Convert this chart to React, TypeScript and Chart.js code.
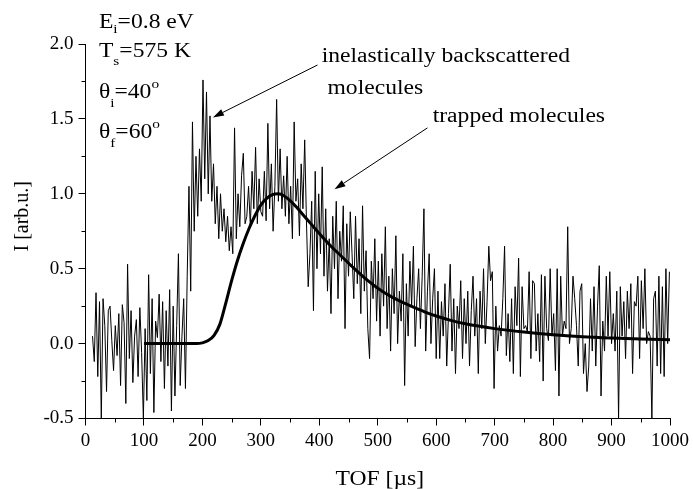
import React, { useEffect, useRef } from 'react';
import { Chart, registerables } from 'chart.js';

Chart.register(...registerables);

// ---- measured signal (TOF grid: start 12 µs, step 3 µs) ----
const tofStart = 12;
const tofStep = 3;
const signal12to99 = [0.05, -0.12, 0.34, -0.22, 0.28, -0.5, 0.3, 0.12, -0.32, 0.22, 0.25, 0.02, -0.18, 0.12, -0.08, 0.2, -0.28, 0.26, 0.14, -0.4, 0.53, -0.1, 0.22, -0.26, 0.05, 0.16, -0.22, 0.24, -0.06, -0.5];
const signal102to198 = [0.1, -0.38, 0.46, -0.2, 0.3, -0.46, 0.15, 0.04, 0.33, -0.12, 0.28, -0.3, 0.22, -0.15, 0.36, -0.45, 0.25, -0.35, 0.12, 0.6, -0.28, 0.05, 0.3, -0.3, 0.45, 1.05, 0.35, 1.48, 0.75, 1.25, 0.85, 1.3, 0.95];
const signal201to300 = [1.76, 1.1, 1.68, 1.0, 1.52, 0.95, 1.2, 0.8, 1.05, 0.7, 1.0, 0.75, 0.9, 0.68, 0.85, 0.62, 0.78, 0.6, 1.44, 0.7, 1.0, 0.78, 1.12, 1.27, 0.8, 0.85, 1.05, 0.78, 1.15, 0.9, 1.31, 0.8, 1.1, 0.88];
const signal303to399 = [0.85, 1.15, 0.82, 1.47, 0.9, 1.2, 0.75, 1.05, 1.63, 0.95, 1.3, 0.9, 1.12, 0.85, 1.25, 0.8, 1.05, 0.7, 1.48, 0.95, 1.1, 0.72, 1.2, 0.9, 1.36, 0.82, 0.38, 0.6, 0.95, 0.22, 1.15, 0.5, 1.0];
const signal402to498 = [0.6, 1.18, 0.45, 0.9, 0.35, 0.7, 0.2, 0.85, 0.5, 0.95, 0.3, 0.75, 0.55, 0.92, 0.1, 0.8, 0.45, 0.88, 0.6, 0.3, 0.85, 0.4, 0.7, 0.2, 0.92, 0.35, 0.62, 0.1, -0.1, 0.55, 0.3, 0.7, 0.15];
const signal501to600 = [0.55, 0.05, 0.6, 0.25, 0.78, 0.1, 0.45, -0.05, 0.5, 0.2, 0.72, 0.0, 0.35, 0.15, 0.6, -0.28, 0.4, 0.05, 0.55, 0.25, 0.65, -0.02, 0.3, 0.5, 0.1, 0.45, 0.9, -0.05, 0.35, 0.6, 0.0, 0.3, 0.5, -0.1];
const signal603to699 = [0.35, -0.1, 0.28, 0.05, 0.4, -0.15, 0.2, 0.53, -0.05, 0.3, -0.2, 0.25, 0.1, 0.42, -0.1, 0.3, 0.0, 0.35, -0.15, 0.22, 0.45, 0.05, 0.3, -0.2, 0.35, 0.1, 0.5, 0.0, 0.28, 0.65, 0.42, 0.48, -0.3];
const signal702to798 = [0.25, -0.05, 0.12, 0.05, 0.3, 0.65, -0.08, 0.2, -0.12, 0.3, -0.2, 0.38, 0.12, 0.57, -0.22, 0.38, 0.1, 0.12, 0.08, 0.48, -0.1, 0.42, 0.4, -0.05, 0.2, -0.12, 0.46, -0.25, 0.45, 0.1, 0.02, 0.5, 0.05];
const signal801to900 = [0.2, -0.18, 0.5, -0.35, 0.45, 0.05, 0.15, 0.1, 0.78, 0.0, 0.1, 0.45, 0.3, 0.12, -0.15, 0.35, 0.4, -0.2, 0.0, -0.32, -0.15, 0.3, -0.05, 0.38, -0.15, 0.25, 0.52, -0.35, 0.15, -0.05, 0.45, 0.05, 0.48, 0.0];
const signal903to999 = [0.2, -0.05, 0.35, -0.5, 0.38, 0.05, 0.28, -0.1, 0.35, 0.1, 0.4, -0.2, 0.28, 0.25, 0.45, -0.1, 0.42, 0.1, 0.5, 0.0, 0.08, 0.05, -0.5, 0.3, 0.35, -0.15, 0.45, -0.2, 0.38, -0.22, 0.5, 0.0, 0.48];

const signal = [
  ...signal12to99, ...signal102to198, ...signal201to300, ...signal303to399, ...signal402to498,
  ...signal501to600, ...signal603to699, ...signal702to798, ...signal801to900, ...signal903to999,
];

// ---- fitted curve ----
const fitTof = [100, 150, 190, 200, 210, 220, 230, 240, 250, 260, 270, 280, 290, 300, 310, 320, 330, 340, 350, 360, 370, 380, 390, 400, 420, 440, 460, 480, 500, 520, 540, 560, 580, 600, 625, 650, 700, 750, 800, 850, 900, 950, 1000];
const fitI = [0, 0, 0, 0.005, 0.02, 0.055, 0.13, 0.27, 0.42, 0.555, 0.67, 0.77, 0.855, 0.925, 0.97, 0.995, 1.0, 0.985, 0.955, 0.915, 0.87, 0.825, 0.78, 0.735, 0.65, 0.575, 0.5, 0.43, 0.37, 0.32, 0.28, 0.245, 0.212, 0.184, 0.155, 0.132, 0.1, 0.077, 0.059, 0.046, 0.037, 0.03, 0.025];

// ---- axes ----
const xMin = 0, xMax = 1000, xStep = 100;
const yMin = -0.5, yMax = 2.0, yStep = 0.5;
const xTitle = 'TOF [\u00b5s]';
const yTitle = 'I [arb.u.]';

// ---- annotation texts ----
const paramLines: Array<Array<[string, string]>> = [
  [['E', 'n'], ['i', 'sub'], ['=0.8 eV', 'n']],
  [['T', 'n'], ['s', 'sub'], ['=575 K', 'n']],
  [['\u03b8', 'n'], ['i', 'sub'], ['=40', 'n'], ['o', 'sup']],
  [['\u03b8', 'n'], ['f', 'sub'], ['=60', 'n'], ['o', 'sup']],
];
const label1a = 'inelastically backscattered';
const label1b = 'molecules';
const label2 = 'trapped molecules';

const SERIF = "'Liberation Serif', 'Times New Roman', serif";

export default function App() {
  const ref = useRef<HTMLCanvasElement | null>(null);

  useEffect(() => {
    const canvas = ref.current;
    if (!canvas) return;

    const stretch = 1.18;

    const drawRich = (ctx: CanvasRenderingContext2D, x: number, y: number, parts: Array<[string, string]>, subOff: number) => {
      ctx.save();
      ctx.translate(x, y);
      ctx.scale(stretch, 1);
      let cx = 0;
      for (const [t, kind] of parts) {
        let off = 0;
        if (kind === 'n') ctx.font = `20px ${SERIF}`;
        else ctx.font = `13px ${SERIF}`;
        if (kind === 'sub') off = subOff;
        if (kind === 'sup') off = -10;
        ctx.fillText(t, cx, off);
        cx += ctx.measureText(t).width;
      }
      ctx.restore();
    };

    const drawText = (ctx: CanvasRenderingContext2D, x: number, y: number, t: string) => {
      ctx.save();
      ctx.translate(x, y);
      ctx.scale(stretch, 1);
      ctx.font = `20px ${SERIF}`;
      ctx.fillText(t, 0, 0);
      ctx.restore();
    };

    const arrow = (ctx: CanvasRenderingContext2D, x1: number, y1: number, x2: number, y2: number) => {
      const ang = Math.atan2(y2 - y1, x2 - x1);
      const L = 11, W = 3.5;
      const bx = x2 - L * Math.cos(ang), by = y2 - L * Math.sin(ang);
      ctx.beginPath();
      ctx.moveTo(x1, y1);
      ctx.lineTo(bx, by);
      ctx.lineWidth = 1;
      ctx.stroke();
      ctx.beginPath();
      ctx.moveTo(x2, y2);
      ctx.lineTo(bx + W * Math.sin(ang), by - W * Math.cos(ang));
      ctx.lineTo(bx - W * Math.sin(ang), by + W * Math.cos(ang));
      ctx.closePath();
      ctx.fill();
    };

    const deco = {
      id: 'deco',
      afterDraw(chart: any) {
        const { ctx } = chart;
        const x = chart.scales.x, y = chart.scales.y;
        const X = (v: number) => x.getPixelForValue(v);
        const Y = (v: number) => y.getPixelForValue(v);
        ctx.save();
        ctx.fillStyle = '#000';
        ctx.strokeStyle = '#000';
        ctx.lineWidth = 1;
        // minor ticks
        for (let v = xMin + xStep / 2; v < xMax; v += xStep) {
          const px = Math.round(X(v)) + 0.5;
          ctx.beginPath();
          ctx.moveTo(px, y.bottom);
          ctx.lineTo(px, y.bottom + 4);
          ctx.stroke();
        }
        for (let v = yMin + yStep / 2; v < yMax; v += yStep) {
          const py = Math.round(Y(v)) + 0.5;
          ctx.beginPath();
          ctx.moveTo(x.left, py);
          ctx.lineTo(x.left - 4, py);
          ctx.stroke();
        }
        // parameter block
        ctx.textAlign = 'left';
        ctx.textBaseline = 'alphabetic';
        const pBase = [2.107, 1.913, 1.64, 1.37];
        const subOffs = [5, 8, 9, 9];
        paramLines.forEach((p, i) => drawRich(ctx, X(23), Y(pBase[i]), p, subOffs[i]));
        // labels
        drawText(ctx, X(404), Y(1.88), label1a);
        drawText(ctx, X(414), Y(1.667), label1b);
        drawText(ctx, X(594), Y(1.48), label2);
        arrow(ctx, X(397), Y(1.86), X(218), Y(1.51));
        arrow(ctx, X(585), Y(1.44), X(426), Y(1.03));
        // axis titles
        ctx.font = `20px ${SERIF}`;
        ctx.save();
        ctx.translate((x.left + x.right) / 2 + 2, 485);
        ctx.scale(stretch, 1);
        ctx.textAlign = 'center';
        ctx.fillText(xTitle, 0, 0);
        ctx.restore();
        ctx.save();
        ctx.translate(28, (y.top + y.bottom) / 2 - 15);
        ctx.rotate(-Math.PI / 2);
        ctx.textAlign = 'center';
        ctx.fillText(yTitle, 0, 0);
        ctx.restore();
        ctx.restore();
      },
    };

    const chart = new Chart(canvas, {
      type: 'line',
      data: {
        datasets: [
          {
            label: 'fit',
            data: fitTof.map((t, i) => ({ x: t, y: fitI[i] })),
            borderColor: '#000',
            borderWidth: 3,
            pointRadius: 0,
            tension: 0.4,
            cubicInterpolationMode: 'monotone',
            fill: false,
            order: 0,
          },
          {
            label: 'signal',
            data: signal.map((v, i) => ({ x: tofStart + i * tofStep, y: v })),
            borderColor: '#000',
            borderWidth: 1,
            pointRadius: 0,
            tension: 0,
            fill: false,
            order: 1,
          },
        ],
      },
      options: {
        responsive: false,
        animation: false,
        events: [],
        layout: { padding: { left: 0, top: 44, right: 22.5, bottom: 0 } },
        plugins: { legend: { display: false }, tooltip: { enabled: false }, title: { display: false } },
        scales: {
          x: {
            type: 'linear',
            min: xMin,
            max: xMax,
            ticks: {
              stepSize: xStep,
              color: '#000',
              font: { family: SERIF, size: 19 },
              padding: 4,
              maxRotation: 0,
              autoSkip: false,
              callback: (v: any) => String(v),
            },
            grid: { display: true, drawOnChartArea: false, drawTicks: true, tickLength: 7, color: '#000', lineWidth: 1 },
            border: { display: true, color: '#000', width: 1 },
            afterFit: (s: any) => { s.height = 70.5; },
          },
          y: {
            type: 'linear',
            min: yMin,
            max: yMax,
            ticks: {
              stepSize: yStep,
              color: '#000',
              font: { family: SERIF, size: 19 },
              padding: 5,
              callback: (v: any) => Number(v).toFixed(1),
            },
            grid: { display: true, drawOnChartArea: false, drawTicks: true, tickLength: 7, color: '#000', lineWidth: 1 },
            border: { display: true, color: '#000', width: 1 },
            afterFit: (s: any) => { s.width = 85.5; },
          },
        },
      },
      plugins: [deco],
    });

    return () => chart.destroy();
  }, []);

  return (
    <div style={{ position: 'absolute', left: 0, top: 0, width: 693, height: 489, background: '#fff' }}>
      <canvas ref={ref} width={693} height={489} style={{ display: 'block', width: 693, height: 489 }} />
    </div>
  );
}
